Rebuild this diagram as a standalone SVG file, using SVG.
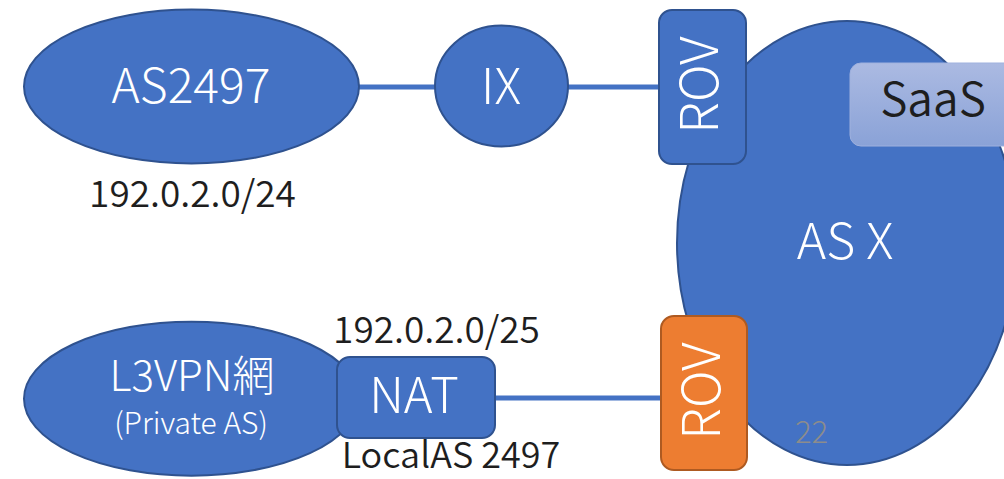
<svg xmlns="http://www.w3.org/2000/svg" width="1004" height="479" viewBox="0 0 1004 479">
  <defs>
    <linearGradient id="saasGrad" x1="0" y1="0" x2="0" y2="1">
      <stop offset="0" stop-color="#abbae2"/>
      <stop offset="1" stop-color="#8aa2d7"/>
    </linearGradient>
  </defs>
  <style>
    .blue { fill: #4472c4; stroke: #2f528f; stroke-width: 2; }
    .orange { fill: #ed7d31; stroke: #ae5a21; stroke-width: 2; }
    .conn { stroke: #4472c4; stroke-width: 5; fill: none; }
    .wt { fill: #ffffff; font-family: "Noto Sans CJK JP", "Noto Sans", sans-serif; font-weight: 300; text-anchor: middle; }
    .bk { fill: #1e1e1e; font-family: "Noto Sans CJK JP", "Noto Sans", sans-serif; font-weight: 350; text-anchor: middle; }
  </style>
  <rect width="1004" height="479" fill="#ffffff"/>
  <g id="connectors">
    <line class="conn" x1="355" y1="87" x2="437" y2="87"/>
    <line class="conn" x1="566" y1="87" x2="660" y2="87"/>
    <line class="conn" x1="493" y1="398" x2="663" y2="398"/>
  </g>
  <g id="asx">
    <ellipse class="blue" cx="847" cy="243" rx="170" ry="222"/>
    <text class="wt" x="845" y="259" font-size="50">AS X</text>
    <text x="795" y="443" font-size="31" fill="#8c8c8c" font-family="Noto Sans CJK JP, Noto Sans, sans-serif" font-weight="300">22</text>
  </g>
  <g id="saas">
    <rect x="850" y="63" width="170" height="83" rx="11" fill="url(#saasGrad)" stroke="#9fb1de" stroke-width="1"/>
    <text class="bk" x="933" y="116" font-size="46">SaaS</text>
  </g>
  <g id="as2497">
    <ellipse class="blue" cx="191.5" cy="86.5" rx="167.5" ry="77"/>
    <text class="wt" x="191" y="103" font-size="48">AS2497</text>
  </g>
  <g id="ix">
    <ellipse class="blue" cx="501.5" cy="86" rx="66.5" ry="60.5"/>
    <text class="wt" x="501" y="104" font-size="49">IX</text>
  </g>
  <g id="rov-top">
    <rect class="blue" x="659" y="10" width="87" height="154" rx="13"/>
    <text class="wt" transform="translate(718,85) rotate(-90)" x="0" y="0" font-size="52">ROV</text>
  </g>
  <g id="l3vpn">
    <ellipse class="blue" cx="191.5" cy="398.7" rx="167.5" ry="77"/>
    <text class="wt" x="192" y="391" font-size="42">L3VPN網</text>
    <text class="wt" x="191" y="434" font-size="30">(Private AS)</text>
  </g>
  <g id="nat">
    <rect class="blue" x="337" y="357" width="158" height="81" rx="13"/>
    <text class="wt" x="414" y="413" font-size="49">NAT</text>
  </g>
  <g id="rov-bottom">
    <rect class="orange" x="661" y="316" width="86" height="154" rx="13"/>
    <text class="wt" transform="translate(720,391) rotate(-90)" x="0" y="0" font-size="52">ROV</text>
  </g>
  <g id="labels">
    <text class="bk" x="192.5" y="207" font-size="37">192.0.2.0/24</text>
    <text class="bk" x="436.5" y="343" font-size="37">192.0.2.0/25</text>
    <text class="bk" x="451" y="468" font-size="36">LocalAS 2497</text>
  </g>
</svg>
